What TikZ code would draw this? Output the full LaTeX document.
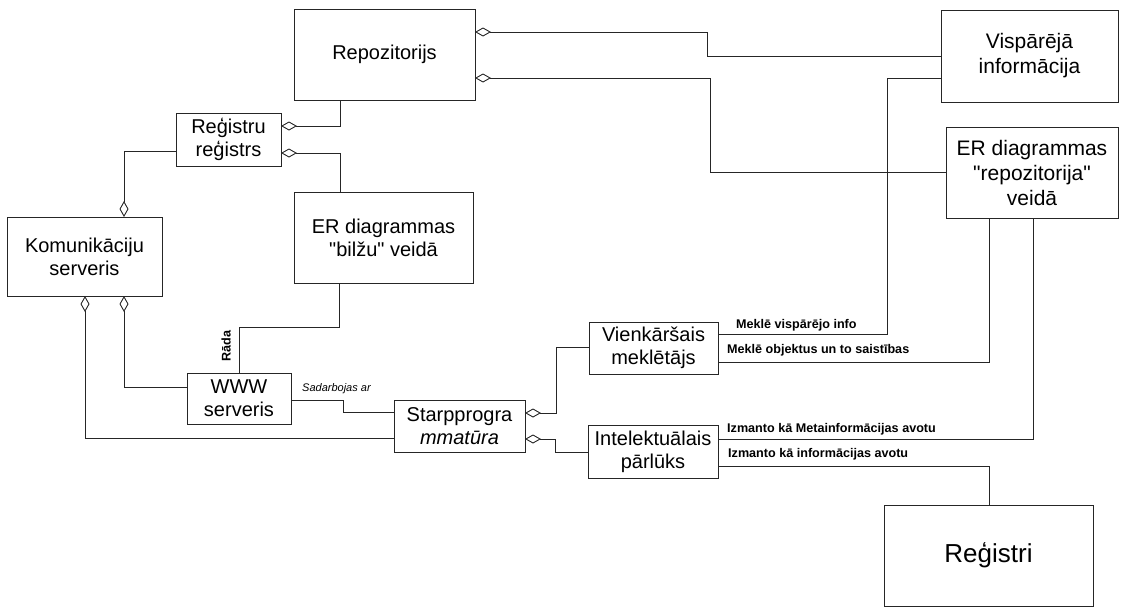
\documentclass[tikz,border=0pt]{standalone}
\usepackage{fontspec}
\setmainfont{Liberation Sans}[Ligatures=TeXOff]
\usetikzlibrary{arrows.meta}

\begin{document}
\begin{tikzpicture}[x=1pt,y=-1pt,
  box/.style={draw=black!85, line width=1pt, rectangle, inner sep=0pt, outer sep=0pt,
              align=center, font=\fontsize{20}{23}\selectfont},
  bigbox/.style={box, font=\fontsize{21}{25}\selectfont},
  link/.style={draw=black!85, line width=0.9pt},
  agg/.style={link, {Diamond[open,length=16pt,width=9pt,line width=0.9pt]}-},
  lbl/.style={inner sep=0pt, font=\bfseries\fontsize{12.6}{14}\selectfont, anchor=base west}]
\useasboundingbox (0,0) rectangle (1126,608);

% components
\node[box, minimum width=181pt, minimum height=91pt] (repo) at (384.5,54.5) {Repozitorijs};
\node[box, minimum width=105pt, minimum height=53pt] (regreg) at (228.5,139.5) {Reģistru\\reģistrs};
\node[box, minimum width=179pt, minimum height=91pt] (erb) at (383.5,237.5) {ER diagrammas\\"bilžu" veidā};
\node[box, minimum width=155pt, minimum height=79pt] (kom) at (84.5,256.5) {Komunikāciju\\serveris};
\node[box, minimum width=104pt, minimum height=51pt] (www) at (239,398.5) {WWW\\serveris};
\node[box, minimum width=131pt, minimum height=52pt] (starp) at (459.5,426) {Starpprogra\\{\itshape mmatūra}};
\node[box, minimum width=129pt, minimum height=52pt] (vienk) at (653.5,348) {Vienkāršais\\meklētājs};
\node[box, minimum width=130pt, minimum height=53pt] (intel) at (653,451.5) {Intelektuālais\\pārlūks};
\node[bigbox, minimum width=177pt, minimum height=92pt] (visp) at (1029.5,56) {Vispārējā\\informācija};
\node[bigbox, minimum width=172pt, minimum height=91pt] (errep) at (1032,172.5) {ER diagrammas\\"repozitorija"\\veidā};
\node[box, font=\fontsize{26}{30}\selectfont, minimum width=209pt, minimum height=101pt] (reg) at (988.5,555.5) {Reģistri};

% aggregations
\draw[agg] (repo.east |- 0,32) -- (707,32) |- (visp.west);
\draw[agg] (repo.east |- 0,78) -- (710,78) |- (errep.west);
\draw[agg] (regreg.east |- 0,126) -| (repo.south -| 340,0);
\draw[agg] (regreg.east |- 0,153) -| (erb.north -| 340,0);
\draw[agg] (kom.north -| 124,0) |- (regreg.west |- 0,151);
\draw[agg] (kom.south -| 124,0) |- (www.west |- 0,387);
\draw[agg] (kom.south -| 85,0) |- (starp.west |- 0,438);
\draw[agg] (starp.east |- 0,413) -- (556,413) |- (vienk.west |- 0,347);
\draw[agg] (starp.east |- 0,439) -- (555,439) |- (intel.west |- 0,452);

% associations
\draw[link] (erb.south -| 339,0) -- (339,327) -| (www.north -| 239,0);
\node[lbl, anchor=center, rotate=90] (rada) at (226,346) {Rāda};
\draw[link] (www.east |- 0,400) -- (343,400) |- (starp.west |- 0,412);
\node[lbl, font=\itshape\fontsize{11}{13}\selectfont] (sadarb) at (302,391) {Sadarbojas ar};

\draw[link] (vienk.east |- 0,334) -- (887,334) |- (visp.west |- 0,78);
\node[lbl] (mvisp) at (736,328) {Meklē vispārējo info};
\draw[link] (vienk.east |- 0,362) -| (errep.south -| 989,0);
\node[lbl] (mobj) at (727,353) {Meklē objektus un to saistības};
\draw[link] (intel.east |- 0,439) -| (errep.south -| 1033,0);
\node[lbl] (imeta) at (727,432) {Izmanto kā Metainformācijas avotu};
\draw[link] (intel.east |- 0,466) -| (reg.north -| 989,0);
\node[lbl] (iinfo) at (728,457) {Izmanto kā informācijas avotu};
\end{tikzpicture}
\end{document}
